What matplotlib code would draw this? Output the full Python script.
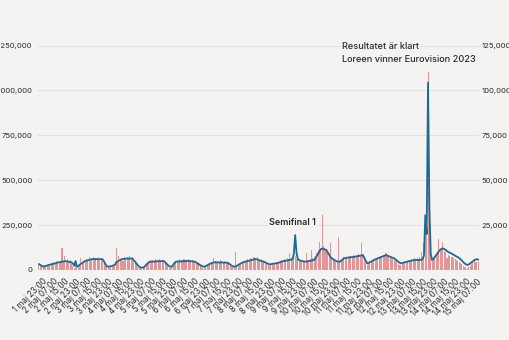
import datetime as dt
import matplotlib
matplotlib.use('Agg')
import matplotlib.pyplot as plt
from matplotlib.ticker import FuncFormatter

plt.rcParams['font.family'] = ['Inter', 'DejaVu Sans']

# timdata från 1 maj 20:00
start = dt.datetime(2023, 5, 1, 20)

# sidvisningar per timme (vänster axel)
visningar = [
    28000, 20000, 15000, 10000, 18000, 26000, 20000, 32000, 24000, 38000, 30000, 45000,
    33000, 48000, 36000, 52000, 40000, 122000, 42000, 78000, 50000, 62000, 40000, 55000,
    35000, 22000, 12000, 48000, 10000, 22000, 30000, 65000, 35000, 52000, 42000, 60000,
    48000, 70000, 52000, 62000, 75000, 55000, 68000, 58000, 72000, 50000, 66000, 56000,
    40000, 25000, 14000, 10000, 12000, 16000, 20000, 25000, 30000, 125000, 45000, 78000,
    55000, 68000, 50000, 72000, 58000, 75000, 60000, 80000, 56000, 70000, 45000, 38000,
    28000, 18000, 12000, 9000, 7000, 10000, 18000, 30000, 40000, 48000, 55000, 45000,
    58000, 42000, 60000, 50000, 45000, 62000, 48000, 58000, 52000, 40000, 30000, 20000,
    14000, 10000, 12000, 25000, 38000, 50000, 52000, 42000, 60000, 48000, 58000, 64000,
    45000, 55000, 62000, 50000, 48000, 56000, 42000, 50000, 38000, 32000, 26000, 20000,
    16000, 12000, 10000, 18000, 25000, 32000, 36000, 42000, 45000, 65000, 48000, 40000,
    52000, 44000, 55000, 46000, 42000, 50000, 40000, 46000, 34000, 26000, 18000, 14000,
    12000, 100000, 18000, 25000, 32000, 38000, 42000, 50000, 55000, 48000, 60000, 56000,
    65000, 58000, 70000, 72000, 62000, 70000, 56000, 55000, 60000, 48000, 52000, 40000,
    35000, 28000, 22000, 26000, 30000, 34000, 36000, 42000, 38000, 46000, 48000, 55000,
    50000, 60000, 55000, 65000, 60000, 93000, 68000, 75000, 95000, 80000, 62000, 58000,
    52000, 48000, 44000, 46000, 52000, 95000, 58000, 55000, 62000, 111000, 68000, 75000,
    80000, 95000, 110000, 157000, 125000, 306000, 135000, 115000, 100000, 105000, 85000, 148000,
    65000, 55000, 48000, 45000, 42000, 185000, 46000, 55000, 62000, 70000, 66000, 75000,
    70000, 80000, 68000, 78000, 82000, 74000, 85000, 78000, 88000, 80000, 150000, 78000,
    60000, 38000, 28000, 34000, 40000, 46000, 52000, 58000, 62000, 66000, 70000, 68000,
    78000, 72000, 82000, 78000, 95000, 84000, 76000, 72000, 68000, 64000, 58000, 50000,
    45000, 36000, 30000, 28000, 34000, 40000, 44000, 48000, 52000, 55000, 58000, 62000,
    58000, 65000, 60000, 68000, 62000, 70000, 100000, 72000, 150000, 280000, 200000, 1100000,
    390000, 100000, 50000, 60000, 78000, 90000, 100000, 172000, 115000, 125000, 157000, 105000,
    100000, 65000, 85000, 80000, 75000, 70000, 65000, 60000, 55000, 50000, 45000, 40000,
    34000, 25000, 18000, 14000, 12000, 18000, 24000, 32000, 40000, 48000, 45000, 44000, 42000,
]

# besökare per timme (höger axel)
besokare = [
    3300, 2800, 2400, 1800, 2100, 2300, 2400, 2800, 2900, 3200, 3300, 3600,
    3700, 3800, 4200, 4300, 4400, 4800, 4700, 5000, 4800, 4800, 4500, 4400,
    4300, 3600, 2400, 5000, 1800, 2300, 2900, 3400, 3900, 4500, 5000, 5200,
    5400, 5600, 5800, 6000, 6100, 6100, 6000, 6100, 5900, 6000, 6100, 5900,
    4800, 3300, 2200, 1800, 1900, 2100, 2300, 2600, 2800, 4300, 4800, 5200,
    5600, 5900, 6100, 6200, 6300, 6400, 6300, 6500, 6300, 6400, 5300, 4600,
    3500, 2600, 1800, 1500, 1300, 1300, 2000, 2800, 3600, 4200, 4600, 4700,
    4600, 4800, 4700, 4900, 4800, 5000, 4900, 5100, 5000, 4400, 3600, 2800,
    2200, 1900, 1800, 2800, 3900, 4600, 4700, 4800, 4700, 4900, 4800, 5000,
    4900, 5000, 5100, 5000, 4900, 4800, 4700, 4600, 4200, 3700, 3200, 2700,
    2300, 2000, 1800, 2200, 2600, 3000, 3400, 3700, 4000, 4200, 4300, 4200,
    4300, 4100, 4200, 4300, 4100, 4200, 4000, 4100, 3700, 3100, 2500, 2100,
    1800, 2000, 2400, 2800, 3300, 3700, 4100, 4400, 4600, 4800, 5000, 5200,
    5400, 5600, 5800, 6000, 6100, 5900, 5600, 5300, 5000, 4800, 4600, 4200,
    3800, 3500, 3200, 3200, 3400, 3500, 3600, 3700, 3900, 4100, 4400, 4600,
    4900, 5000, 5200, 5300, 5500, 5600, 5800, 5900, 9000, 19400, 9500, 5900,
    5500, 5200, 5000, 4800, 4700, 4600, 4800, 5000, 5100, 5300, 5400, 5600,
    6500, 7800, 9200, 10500, 11500, 12000, 11800, 11400, 11100, 9800, 8500, 7300,
    6500, 6000, 5500, 5100, 4800, 4700, 4600, 5200, 5900, 6500, 6700, 6800,
    6900, 7000, 7200, 7100, 7300, 7400, 7500, 7700, 7800, 8000, 8100, 8300,
    6800, 5200, 3700, 3900, 4300, 4700, 5100, 5500, 5900, 6200, 6500, 6800,
    7100, 7400, 7700, 8000, 8300, 8000, 7700, 7400, 7100, 6800, 6500, 5900,
    5300, 4600, 4100, 3700, 3900, 4100, 4300, 4500, 4700, 4900, 5100, 5300,
    5400, 5600, 5500, 5600, 5500, 5700, 5600, 6200, 8000, 30500, 20000, 104400,
    35000, 9000, 5600, 6200, 7200, 8300, 9400, 10400, 11300, 11800, 12000, 11700,
    11200, 10600, 10000, 9600, 9300, 8900, 8400, 8000, 7500, 7200, 6600, 6000,
    5200, 4400, 3700, 3100, 2800, 3100, 3600, 4200, 4800, 5400, 5900, 6000, 5800,
]

# etiketter var åttonde timme, från 1 maj 23:00
tick_idx = list(range(3, len(visningar), 8))
tick_labels = []
for i in tick_idx:
    d = start + dt.timedelta(hours=i)
    tick_labels.append(f"{d.day} maj {d:%H:%M}")

bg = '#f4f3f1'
txt = '#2b2b2b'
hours = list(range(len(visningar)))

fig = plt.figure(figsize=(5.1, 3.4), dpi=100, facecolor=bg)
ax = fig.add_axes([38 / 510, 1 - 270 / 340, 441 / 510, 224.5 / 340])
ax.set_facecolor(bg)
ax.bar(hours, visningar, width=0.75, color='#e49598', linewidth=0, zorder=2)
ax.set_ylim(0, 1250000)
ax.set_xlim(-0.7, 324.6)
ax.set_yticks([0, 250000, 500000, 750000, 1000000, 1250000])
ax.yaxis.set_major_formatter(FuncFormatter(lambda v, p: f"{int(v):,}"))
ax.grid(axis='y', color='#e3e1de', linewidth=0.8, zorder=0)
ax.set_axisbelow(True)
ax.set_xticks(tick_idx)
ax.set_xticklabels(tick_labels, rotation=45, ha='right', rotation_mode='anchor')
ax.tick_params(axis='x', length=0, pad=5, labelsize=5.8, labelcolor=txt)
ax.tick_params(axis='y', length=0, pad=4, labelsize=5.5, labelcolor=txt)
for s in ax.spines.values():
    s.set_visible(False)

ax2 = ax.twinx()
ax2.plot(hours, besokare, color='#1c6b92', linewidth=1.3, zorder=3)
ax2.set_ylim(0, 125000)
ax2.set_yticks([25000, 50000, 75000, 100000, 125000])
ax2.yaxis.set_major_formatter(FuncFormatter(lambda v, p: f"{int(v):,}"))
ax2.tick_params(axis='y', length=0, pad=2, labelsize=5.5, labelcolor=txt)
for s in ax2.spines.values():
    s.set_visible(False)

box = dict(facecolor=bg, edgecolor='none', pad=1)
ax2.text(170, 26300, 'Semifinal 1', fontsize=6.5, fontweight='semibold', color=txt,
         va='center', ha='left', bbox=box)
ax2.text(223.5, 124400, 'Resultatet är klart', fontsize=6.6, fontweight='medium',
         color=txt, va='center', ha='left', bbox=box)
ax2.text(223.5, 117000, 'Loreen vinner Eurovision 2023', fontsize=6.6, fontweight='medium',
         color=txt, va='center', ha='left', bbox=box)

fig.savefig('out.png', dpi=100, facecolor=bg)
